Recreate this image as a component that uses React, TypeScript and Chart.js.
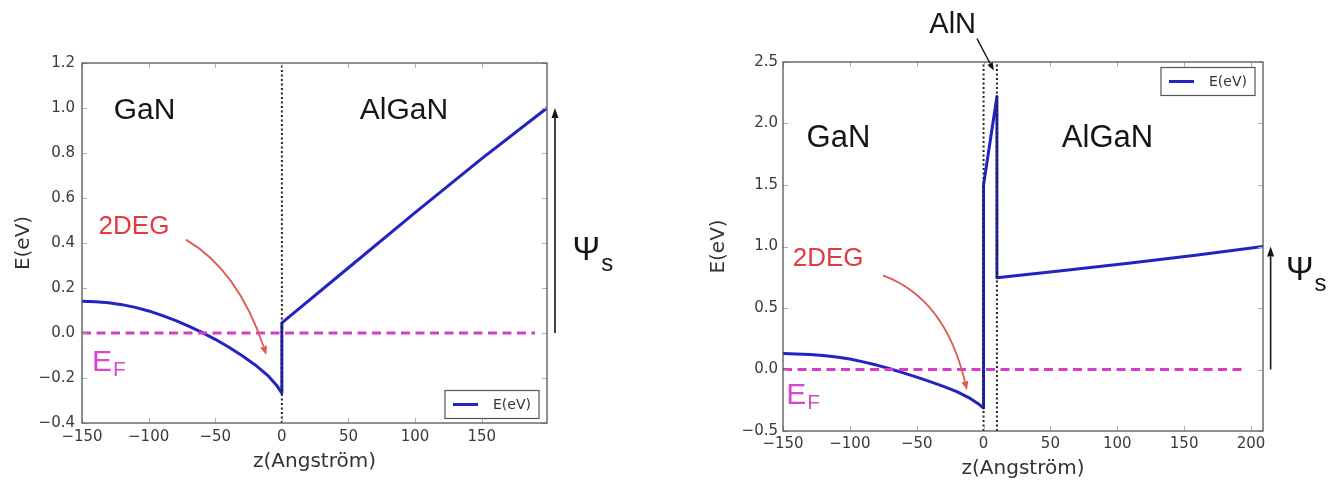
import React, { useEffect, useRef } from "react";
import { Chart, registerables } from "chart.js";

Chart.register(...registerables);

// ---------- Left panel: GaN / AlGaN ----------
const leftZ = [-150, -140, -130, -120, -110, -100, -90, -80, -70, -60, -50, -40, -30, -20, -10, -4, 0, 0, 50, 100, 150, 199];
const leftE = [0.141, 0.139, 0.134, 0.126, 0.114, 0.098, 0.078, 0.056, 0.031, 0.003, -0.028, -0.062, -0.1, -0.142, -0.192, -0.232, -0.267, 0.045, 0.29, 0.535, 0.775, 1.0];
const leftFermiZ = [-150, 190];
const leftFermiE = [0, 0];
const leftInterfaceZ = [0];
const leftXTicks = [-150, -100, -50, 0, 50, 100, 150];
const leftYTicks = [-0.4, -0.2, 0, 0.2, 0.4, 0.6, 0.8, 1.0, 1.2];

// ---------- Right panel: GaN / AlN / AlGaN ----------
const rightZ = [-150, -140, -130, -120, -110, -100, -90, -80, -70, -60, -50, -40, -30, -20, -10, -4, 0, 0, 10, 10, 60, 110, 160, 209];
const rightE = [0.13, 0.127, 0.122, 0.114, 0.102, 0.085, 0.062, 0.036, 0.006, -0.027, -0.062, -0.098, -0.137, -0.18, -0.235, -0.278, -0.313, 1.5, 2.22, 0.745, 0.805, 0.866, 0.93, 1.0];
const rightFermiZ = [-150, 195];
const rightFermiE = [0, 0];
const rightInterfaceZ = [0, 10];
const rightXTicks = [-150, -100, -50, 0, 50, 100, 150, 200];
const rightYTicks = [-0.5, 0, 0.5, 1.0, 1.5, 2.0, 2.5];

const seriesLabel = "E(eV)";
const xTitle = "z(Angström)";
const yTitle = "E(eV)";

const TICK_FONT = "DejaVu Sans";
const ANN_FONT = "'Liberation Sans', Arial, sans-serif";
const BLUE = "#2323c2";
const MAGENTA = "#d63cc6";

type Pt = [number, number];

const leftPanel = {
  canvasW: 660,
  canvasH: 482,
  offsetX: 0,
  area: { left: 82, right: 547, top: 63, bottom: 423 },
  range: { xMin: -150, xMax: 199, yMin: -0.4, yMax: 1.2 },
  z: leftZ,
  e: leftE,
  fermiZ: leftFermiZ,
  fermiE: leftFermiE,
  interfaces: leftInterfaceZ,
  xTicks: leftXTicks,
  yTicks: leftYTicks,
  yTickPad: 7,
  xTickPad: 5,
  yTitlePad: 12,
  xTitlePad: 8,
  labels: [
    { text: "GaN", at: [-103, 0.99] as Pt, size: 30, color: "#151515" },
    { text: "AlGaN", at: [91.7, 0.99] as Pt, size: 30, color: "#151515" },
    { text: "2DEG", at: [-111, 0.47] as Pt, size: 26, color: "#e23a3e" },
  ],
  subLabels: [
    { main: "E", sub: "F", at: [-142.5, -0.17] as Pt, size: 30, subSize: 21, subDy: 5, color: "#d946cf" },
    { main: "Ψ", sub: "s", at: [218.2, 0.326] as Pt, size: 33, subSize: 24, subDy: 11, color: "#151515" },
  ],
  arrows: [
    { from: [-72, 0.415] as Pt, ctrl: [-33.1, 0.28] as Pt, to: [-11.6, -0.098] as Pt, color: "#dd5a55", width: 1.8, head: 9, headW: 3.5 },
    { from: [205, 0] as Pt, to: [205, 1.0] as Pt, color: "#151515", width: 1.6, head: 10, headW: 3.5 },
  ],
  legend: { corner: "bottom", inset: 4.5 },
};

const rightPanel = {
  canvasW: 670,
  canvasH: 482,
  offsetX: 660,
  area: { left: 123, right: 603, top: 62, bottom: 431 },
  range: { xMin: -150, xMax: 209, yMin: -0.5, yMax: 2.5 },
  z: rightZ,
  e: rightE,
  fermiZ: rightFermiZ,
  fermiE: rightFermiE,
  interfaces: rightInterfaceZ,
  xTicks: rightXTicks,
  yTicks: rightYTicks,
  yTickPad: 5,
  xTickPad: 4,
  yTitlePad: 46.6,
  xTitlePad: 1,
  labels: [
    { text: "GaN", at: [-108.5, 1.876] as Pt, size: 31, color: "#151515" },
    { text: "AlGaN", at: [92.7, 1.876] as Pt, size: 31, color: "#151515" },
    { text: "2DEG", at: [-116.2, 0.9] as Pt, size: 26, color: "#e23a3e" },
    { text: "AlN", at: [-23.1, 2.8] as Pt, size: 29, color: "#151515" },
  ],
  subLabels: [
    { main: "E", sub: "F", at: [-147.6, -0.28] as Pt, size: 30, subSize: 21, subDy: 5, color: "#d946cf" },
    { main: "Ψ", sub: "s", at: [226.2, 0.728] as Pt, size: 33, subSize: 24, subDy: 11, color: "#151515" },
  ],
  arrows: [
    { from: [-75.3, 0.766] as Pt, ctrl: [-28.9, 0.58] as Pt, to: [-12.4, -0.169] as Pt, color: "#dd5a55", width: 1.8, head: 9, headW: 3.5 },
    { from: [-4.9, 2.69] as Pt, to: [7.7, 2.43] as Pt, color: "#151515", width: 1.4, head: 8, headW: 3 },
    { from: [214.7, 0] as Pt, to: [214.7, 1.0] as Pt, color: "#151515", width: 1.6, head: 10, headW: 3.5 },
  ],
  legend: { corner: "top", inset: 5.5 },
};

function fmt(v: number, d: number) {
  const s = Math.abs(v).toFixed(d);
  return v < -1e-9 ? "\u2212" + s : s;
}

function pts(xs: number[], ys: number[]) {
  return xs.map((x, i) => ({ x, y: ys[i] }));
}

function drawArrow(ctx: CanvasRenderingContext2D, a: any, px: (v: number) => number, py: (v: number) => number) {
  const p0 = [px(a.from[0]), py(a.from[1])];
  const p2 = [px(a.to[0]), py(a.to[1])];
  const p1 = a.ctrl ? [px(a.ctrl[0]), py(a.ctrl[1])] : p0;
  const dx = p2[0] - p1[0];
  const dy = p2[1] - p1[1];
  const len = Math.hypot(dx, dy) || 1;
  const ux = dx / len;
  const uy = dy / len;
  const bx = p2[0] - ux * a.head;
  const by = p2[1] - uy * a.head;
  ctx.save();
  ctx.strokeStyle = a.color;
  ctx.fillStyle = a.color;
  ctx.lineWidth = a.width;
  ctx.setLineDash([]);
  ctx.beginPath();
  ctx.moveTo(p0[0], p0[1]);
  if (a.ctrl) ctx.quadraticCurveTo(p1[0], p1[1], bx, by);
  else ctx.lineTo(bx, by);
  ctx.stroke();
  ctx.beginPath();
  ctx.moveTo(p2[0], p2[1]);
  ctx.lineTo(bx - uy * a.headW, by + ux * a.headW);
  ctx.lineTo(bx + uy * a.headW, by - ux * a.headW);
  ctx.closePath();
  ctx.fill();
  ctx.restore();
}

function makeConfig(p: any) {
  const decorations = {
    id: "decorations",
    afterDraw(chart: any) {
      const { ctx, chartArea: a, scales } = chart;
      const px = (v: number) => scales.x.getPixelForValue(v);
      const py = (v: number) => scales.y.getPixelForValue(v);
      ctx.save();
      // inward ticks
      ctx.strokeStyle = "#b0b0b0";
      ctx.lineWidth = 1;
      ctx.beginPath();
      p.xTicks.forEach((v: number) => {
        const x = Math.round(px(v)) + 0.5;
        ctx.moveTo(x, a.bottom);
        ctx.lineTo(x, a.bottom - 5);
        ctx.moveTo(x, a.top);
        ctx.lineTo(x, a.top + 5);
      });
      p.yTicks.forEach((v: number) => {
        const y = Math.round(py(v)) + 0.5;
        ctx.moveTo(a.left, y);
        ctx.lineTo(a.left + 5, y);
        ctx.moveTo(a.right, y);
        ctx.lineTo(a.right - 5, y);
      });
      ctx.stroke();
      // frame
      ctx.strokeStyle = "#555";
      ctx.lineWidth = 1.3;
      ctx.strokeRect(a.left, a.top, a.right - a.left, a.bottom - a.top);

      // labels
      ctx.textAlign = "center";
      ctx.textBaseline = "middle";
      p.labels.forEach((l: any) => {
        ctx.font = `${l.size}px ${ANN_FONT}`;
        ctx.fillStyle = l.color;
        ctx.fillText(l.text, px(l.at[0]), py(l.at[1]));
      });
      ctx.textAlign = "left";
      ctx.textBaseline = "alphabetic";
      p.subLabels.forEach((l: any) => {
        const x = px(l.at[0]);
        const y = py(l.at[1]);
        ctx.font = `${l.size}px ${ANN_FONT}`;
        ctx.fillStyle = l.color;
        ctx.fillText(l.main, x, y);
        const w = ctx.measureText(l.main).width;
        ctx.font = `${l.subSize}px ${ANN_FONT}`;
        ctx.fillText(l.sub, x + w + 1, y + l.subDy);
      });
      p.arrows.forEach((ar: any) => drawArrow(ctx, ar, px, py));

      // legend
      const lw = 94;
      const lh = 28;
      const lx = a.right - 8 - lw;
      const ly = p.legend.corner === "top" ? a.top + p.legend.inset : a.bottom - p.legend.inset - lh;
      ctx.fillStyle = "#fff";
      ctx.fillRect(lx, ly, lw, lh);
      ctx.strokeStyle = "#555";
      ctx.lineWidth = 1.2;
      ctx.strokeRect(lx, ly, lw, lh);
      ctx.strokeStyle = BLUE;
      ctx.lineWidth = 3;
      ctx.beginPath();
      ctx.moveTo(lx + 8, ly + lh / 2);
      ctx.lineTo(lx + 33, ly + lh / 2);
      ctx.stroke();
      ctx.fillStyle = "#333";
      ctx.font = `14px '${TICK_FONT}', sans-serif`;
      ctx.textBaseline = "middle";
      ctx.fillText(seriesLabel, lx + 48, ly + lh / 2 + 0.5);
      ctx.restore();
    },
  };

  const datasets: any[] = [];
  p.interfaces.forEach((z: number) => {
    datasets.push({
      label: "interface",
      data: pts([z, z], [p.range.yMin, p.range.yMax]),
      borderColor: "#222",
      borderWidth: 2,
      borderDash: [2, 2.5],
      pointRadius: 0,
      showLine: true,
    });
  });
  datasets.push({
    label: "E_F",
    data: pts(p.fermiZ, p.fermiE),
    borderColor: MAGENTA,
    borderWidth: 3,
    borderDash: [9, 5.5],
    pointRadius: 0,
    showLine: true,
  });
  datasets.push({
    label: seriesLabel,
    data: pts(p.z, p.e),
    borderColor: BLUE,
    borderWidth: 3,
    pointRadius: 0,
    showLine: true,
    tension: 0,
    borderJoinStyle: "round",
  });

  const tickFont = { family: TICK_FONT, size: 15 };
  return {
    type: "scatter",
    data: { datasets },
    options: {
      animation: false,
      responsive: false,
      devicePixelRatio: 1,
      events: [],
      layout: {
        padding: { left: 0, top: p.area.top, right: p.canvasW - p.area.right, bottom: 0 },
      },
      plugins: { legend: { display: false }, tooltip: { enabled: false } },
      scales: {
        x: {
          type: "linear",
          min: p.range.xMin,
          max: p.range.xMax,
          afterBuildTicks: (s: any) => {
            s.ticks = p.xTicks.map((v: number) => ({ value: v }));
          },
          afterFit: (s: any) => {
            s.height = p.canvasH - p.area.bottom;
          },
          grid: { display: false, drawTicks: false },
          border: { display: false },
          ticks: {
            autoSkip: false,
            maxRotation: 0,
            padding: p.xTickPad,
            color: "#3a3a3a",
            font: tickFont,
            callback: (v: any) => fmt(Number(v), 0),
          },
          title: {
            display: true,
            text: xTitle,
            color: "#333",
            font: { family: TICK_FONT, size: 20 },
            padding: { top: 0, bottom: p.xTitlePad },
          },
        },
        y: {
          type: "linear",
          min: p.range.yMin,
          max: p.range.yMax,
          afterBuildTicks: (s: any) => {
            s.ticks = p.yTicks.map((v: number) => ({ value: v }));
          },
          afterFit: (s: any) => {
            s.width = p.area.left;
          },
          grid: { display: false, drawTicks: false },
          border: { display: false },
          ticks: {
            autoSkip: false,
            padding: p.yTickPad,
            color: "#3a3a3a",
            font: tickFont,
            callback: (v: any) => fmt(Number(v), 1),
          },
          title: {
            display: true,
            text: yTitle,
            color: "#333",
            font: { family: TICK_FONT, size: 20 },
            padding: { top: p.yTitlePad, bottom: 0 },
          },
        },
      },
    },
    plugins: [decorations],
  };
}

function PanelChart({ panel }: { panel: any }) {
  const ref = useRef<HTMLCanvasElement | null>(null);
  useEffect(() => {
    if (!ref.current) return;
    const chart = new Chart(ref.current, makeConfig(panel) as any);
    return () => chart.destroy();
  }, [panel]);
  return (
    <canvas
      ref={ref}
      width={panel.canvasW}
      height={panel.canvasH}
      style={{ position: "absolute", left: panel.offsetX, top: 0, width: panel.canvasW, height: panel.canvasH }}
    />
  );
}

export default function App() {
  return (
    <div style={{ position: "absolute", left: 0, top: 0, width: 1330, height: 482, background: "#fff", overflow: "hidden" }}>
      <PanelChart panel={leftPanel} />
      <PanelChart panel={rightPanel} />
    </div>
  );
}
